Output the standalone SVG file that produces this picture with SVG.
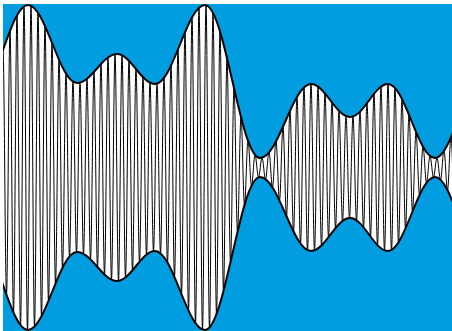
<svg xmlns="http://www.w3.org/2000/svg" width="452" height="331" viewBox="0 0 452 331">
<style>
.bg{fill:#009EE0}
.band{fill:#ffffff}
.carrier{fill:none;stroke:#000;stroke-width:1}
.env{fill:none;stroke:#000;stroke-width:2}
</style>
<defs>
<clipPath id="frame"><rect x="3" y="3" width="449" height="328"/></clipPath>
</defs>
<rect class="bg" x="3" y="4" width="449" height="327"/>
<g clip-path="url(#frame)">
<path id="band" class="band" d="M-22,95 C-3.8,95 9.8,5 28,5 C45.84,5 59.16,83 77,83 C91.56,83 102.44,54 117,54 C130.83,54 141.17,84 155,84 C173.2,84 186.8,5 205,5 C225.02,5 239.98,158 260,158 C278.56,158 292.44,84 311,84 C325.2,84 335.8,117 350,117 C363.83,117 374.17,84 388,84 C405.11,84 417.89,158 435,158 C451.38,158 463.62,84 480,84 L480,251 C463.62,251 451.38,177 435,177 C417.89,177 405.11,251 388,251 C374.17,251 363.83,218 350,218 C335.8,218 325.2,251 311,251 C292.44,251 278.56,177 260,177 C239.98,177 225.02,330 205,330 C186.8,330 173.2,251 155,251 C141.17,251 130.83,281 117,281 C102.44,281 91.56,252 77,252 C59.16,252 45.84,330 28,330 C9.8,330 -3.8,240 -22,240 Z"/>
<path id="carrier" class="carrier" d="M3,50 C4.27,50 5.23,294.8 6.5,294.8 S8.73,30.8 10,30.8 S12.23,312.6 13.5,312.6 S15.73,15.3 17,15.3 S19.23,325.1 20.5,325.1 S22.73,6.4 24,6.4 S26.23,330 27.5,330 S29.73,5.7 31,5.7 S33.23,326.7 34.5,326.7 S36.73,12.7 38,12.7 S40.23,316.3 41.5,316.3 S43.73,26 45,26 S47.23,300.9 48.5,300.9 S50.73,42.8 52,42.8 S54.23,283.5 55.5,283.5 S57.73,59.8 59,59.8 S61.23,267.7 62.5,267.7 S64.73,73.7 66,73.7 S68.23,256.4 69.5,256.4 S71.73,81.7 73,81.7 S75.23,252 76.5,252 S78.73,82.6 80,82.6 S82.23,253.8 83.5,253.8 S85.73,78.8 87,78.8 S89.23,259.4 90.5,259.4 S92.73,71.9 94,71.9 S96.23,267.1 97.5,267.1 S99.73,64 101,64 S103.23,274.6 104.5,274.6 S106.73,57.5 108,57.5 S110.23,279.7 111.5,279.7 S113.73,54.2 115,54.2 S117.23,280.9 118.5,280.9 S120.73,55.3 122,55.3 S124.23,277.4 125.5,277.4 S127.73,60.8 129,60.8 S131.23,270.3 132.5,270.3 S134.73,69 136,69 S138.23,261.7 139.5,261.7 S141.73,77.2 143,77.2 S145.23,254.6 146.5,254.6 S148.73,82.7 150,82.7 S152.23,251.1 153.5,251.1 S155.73,83.7 157,83.7 S159.23,253.3 160.5,253.3 S162.73,77.9 164,77.9 S166.23,262.6 167.5,262.6 S169.73,65.7 171,65.7 S173.23,277.1 174.5,277.1 S176.73,49.5 178,49.5 S180.23,294.2 181.5,294.2 S183.73,32.3 185,32.3 S187.23,310.6 188.5,310.6 S190.73,17.5 192,17.5 S194.23,323.2 195.5,323.2 S197.73,7.8 199,7.8 S201.23,329.5 202.5,329.5 S204.73,5.1 206,5.1 S208.23,327.5 209.5,327.5 S211.73,12.9 213,12.9 S215.23,314.1 216.5,314.1 S218.73,31.4 220,31.4 S222.23,291.1 223.5,291.1 S225.73,57.9 227,57.9 S229.23,262.2 230.5,262.2 S232.73,88 234,88 S236.23,231.9 237.5,231.9 S239.73,117.2 241,117.2 S243.23,205.1 244.5,205.1 S246.73,140.7 248,140.7 S250.23,185.8 251.5,185.8 S253.73,154.9 255,154.9 S257.23,177.3 258.5,177.3 S260.73,157.7 262,157.7 S264.23,179.1 265.5,179.1 S267.73,152.5 269,152.5 S271.23,187.4 272.5,187.4 S274.73,141.4 276,141.4 S278.23,200.6 279.5,200.6 S281.73,126.7 283,126.7 S285.23,216.3 286.5,216.3 S288.73,110.9 290,110.9 S292.23,231.5 293.5,231.5 S295.73,96.9 297,96.9 S299.23,243.5 300.5,243.5 S302.73,87.4 304,87.4 S306.23,250.1 307.5,250.1 S309.73,84 311,84 S313.23,250.3 314.5,250.3 S316.73,86.6 318,86.6 S320.23,245.4 321.5,245.4 S323.73,93.4 325,93.4 S327.23,237.1 328.5,237.1 S330.73,102.5 332,102.5 S334.23,228 335.5,228 S337.73,110.9 339,110.9 S341.23,220.9 342.5,220.9 S344.73,116.2 346,116.2 S348.23,218 349.5,218 S351.73,116.5 353,116.5 S355.23,220.3 356.5,220.3 S358.73,111.7 360,111.7 S362.23,227.3 363.5,227.3 S365.73,103.2 367,103.2 S369.23,236.5 370.5,236.5 S372.73,93.9 374,93.9 S376.23,245.2 377.5,245.2 S379.73,86.7 381,86.7 S383.23,250.3 384.5,250.3 S386.73,84 388,84 S390.23,250 391.5,250 S393.73,88 395,88 S397.23,242.3 398.5,242.3 S400.73,99.1 402,99.1 S404.23,228.4 405.5,228.4 S407.73,114.9 409,114.9 S411.23,211.5 412.5,211.5 S414.73,132 416,132 S418.23,195.1 419.5,195.1 S421.73,146.7 423,146.7 S425.23,182.8 426.5,182.8 S428.73,155.9 430,155.9 S432.23,177.2 433.5,177.2 S435.73,157.6 437,157.6 S439.23,179.7 440.5,179.7 S442.73,150.9 444,150.9 S446.23,190.2 447.5,190.2 S449.73,137.2 451,137.2 S453.23,206.3 454.5,206.3"/>
<path id="upper-envelope" class="env" d="M-22,95 C-3.8,95 9.8,5 28,5 C45.84,5 59.16,83 77,83 C91.56,83 102.44,54 117,54 C130.83,54 141.17,84 155,84 C173.2,84 186.8,5 205,5 C225.02,5 239.98,158 260,158 C278.56,158 292.44,84 311,84 C325.2,84 335.8,117 350,117 C363.83,117 374.17,84 388,84 C405.11,84 417.89,158 435,158 C451.38,158 463.62,84 480,84"/>
<path id="lower-envelope" class="env" d="M-22,240 C-3.8,240 9.8,330 28,330 C45.84,330 59.16,252 77,252 C91.56,252 102.44,281 117,281 C130.83,281 141.17,251 155,251 C173.2,251 186.8,330 205,330 C225.02,330 239.98,177 260,177 C278.56,177 292.44,251 311,251 C325.2,251 335.8,218 350,218 C363.83,218 374.17,251 388,251 C405.11,251 417.89,177 435,177 C451.38,177 463.62,251 480,251"/>
</g>
</svg>
